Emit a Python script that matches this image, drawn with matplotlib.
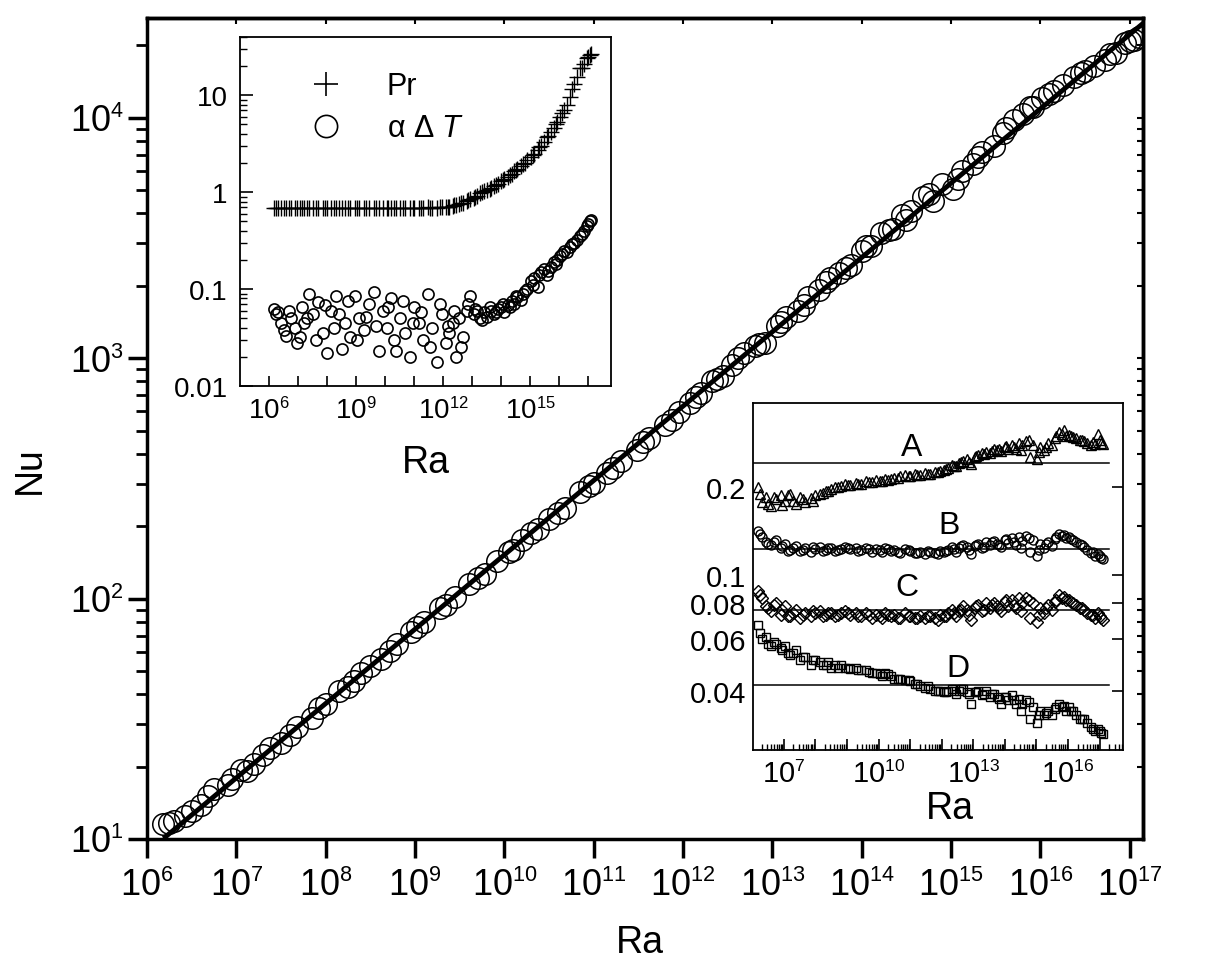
import numpy as np
import matplotlib
matplotlib.use('Agg')
import matplotlib.pyplot as plt
import matplotlib._mathtext as mathtext_mod
from matplotlib.lines import Line2D
from matplotlib.ticker import (FixedLocator, FixedFormatter, FuncFormatter,
                               LogLocator, NullFormatter, NullLocator)

plt.rcParams['font.family'] = ['Liberation Sans', 'DejaVu Sans']
plt.rcParams['mathtext.fontset'] = 'custom'
plt.rcParams['mathtext.rm'] = 'Liberation Sans'
plt.rcParams['mathtext.it'] = 'Liberation Sans:italic'
mathtext_mod.SHRINK_FACTOR = 0.6  # smaller exponents, like the original

# ---- data (run 1) ----
ra = [1.51e6, 2.0e6, 2.63e6, 3.98e6, 5.62e6, 7.94e6,
      1.12e7, 1.58e7, 2.4e7, 3.16e7, 4.79e7, 7.08e7,
      1.0e8, 1.41e8, 2.09e8, 3.16e8, 4.17e8, 6.31e8, 8.91e8,
      1.26e9, 1.91e9, 2.82e9, 3.98e9, 6.03e9, 8.32e9,
      1.12e10, 1.58e10, 2.4e10, 3.16e10, 4.79e10, 7.08e10,
      1.0e11, 1.41e11, 2.0e11, 3.02e11, 4.17e11, 6.31e11, 8.91e11,
      1.2e12, 1.58e12, 2.09e12, 2.82e12, 3.55e12, 4.79e12, 6.31e12, 8.32e12,
      1.12e13, 1.41e13, 1.91e13, 2.51e13, 3.31e13, 4.47e13, 5.62e13, 7.59e13,
      1.0e14, 1.26e14, 1.66e14, 2.24e14, 2.82e14, 3.55e14, 4.79e14, 6.31e14, 7.94e14,
      1.05e15, 1.32e15, 1.78e15, 2.24e15, 3.02e15, 3.8e15, 5.01e15, 6.31e15, 8.32e15,
      1.05e16, 1.41e16, 1.78e16, 2.4e16, 3.16e16, 3.98e16, 5.25e16, 7.08e16, 8.91e16,
      1.12e17, 1.26e17]

nu = [11.5, 11.9, 12.5, 13.9, 16.1, 16.8,
      19.3, 20.5, 24.0, 25.1, 29.3, 32.0,
      36.5, 41.2, 45.4, 52.5, 55.8, 64.5, 72.9,
      79.8, 91.4, 101.5, 114.8, 126.2, 142.9,
      155.6, 175.9, 195.1, 214.2, 237.5, 277.1,
      303.2, 331.8, 372.2, 416.1, 467.5, 527.1, 596.2,
      648.5, 718.3, 801.5, 844.0, 936.3, 1052, 1128, 1159,
      1358, 1481, 1574, 1797, 1912, 2164, 2271, 2432,
      2796, 2935, 3320, 3452, 3940, 4105, 4674, 4492, 5306,
      5078, 6015, 6393, 7197, 7651, 8672, 9801, 10371, 11129,
      12038, 12911, 13653, 14743, 15682, 16435, 17461, 18670, 20390,
      21154, 21725]

pr = [0.68, 0.69, 0.68, 0.69, 0.68, 0.69,
      0.68, 0.69, 0.68, 0.69, 0.68, 0.69,
      0.68, 0.69, 0.68, 0.69, 0.68, 0.69, 0.68,
      0.69, 0.68, 0.69, 0.68, 0.69, 0.68,
      0.69, 0.68, 0.69, 0.68, 0.69, 0.68,
      0.69, 0.68, 0.69, 0.70, 0.68, 0.69, 0.70,
      0.70, 0.71, 0.72, 0.74, 0.76, 0.78, 0.82, 0.85,
      0.88, 0.92, 0.97, 1.02, 1.05, 1.1, 1.17, 1.22,
      1.3, 1.38, 1.45, 1.55, 1.65, 1.75, 1.85, 2.0, 2.15,
      2.3, 2.5, 2.75, 3.0, 3.3, 3.7, 4.2, 4.6, 5.3,
      6.0, 7.0, 8.0, 9.5, 13, 15.5, 19, 21, 24,
      26, 27]

alpha_dt = [0.062, 0.058, 0.045, 0.033, 0.05, 0.04,
            0.032, 0.045, 0.09, 0.055, 0.073, 0.035,
            0.022, 0.06, 0.085, 0.024, 0.045, 0.032, 0.085,
            0.05, 0.038, 0.07, 0.093, 0.023, 0.06,
            0.04, 0.08, 0.023, 0.05, 0.035, 0.02,
            0.065, 0.045, 0.03, 0.09, 0.04, 0.0175, 0.055,
            0.028, 0.035, 0.045, 0.02, 0.05, 0.032, 0.06, 0.085,
            0.055, 0.06, 0.05, 0.058, 0.052, 0.06, 0.055, 0.062,
            0.065, 0.058, 0.068, 0.075, 0.07, 0.082, 0.078, 0.095, 0.1,
            0.12, 0.13, 0.105, 0.15, 0.16, 0.14, 0.17, 0.19, 0.2,
            0.22, 0.25, 0.24, 0.27, 0.3, 0.32, 0.35, 0.4, 0.45,
            0.5, 0.52]

comp_a = [0.2, 0.178, 0.185, 0.172, 0.183, 0.188,
          0.18, 0.19, 0.176, 0.186, 0.178, 0.184,
          0.188, 0.19, 0.194, 0.198, 0.2, 0.202, 0.205,
          0.204, 0.207, 0.206, 0.21, 0.208, 0.212,
          0.21, 0.214, 0.213, 0.216, 0.218, 0.22,
          0.219, 0.222, 0.221, 0.224, 0.223, 0.226, 0.227,
          0.23, 0.234, 0.238, 0.236, 0.242, 0.246, 0.25, 0.24,
          0.255, 0.258, 0.262, 0.265, 0.262, 0.27, 0.268, 0.266,
          0.275, 0.272, 0.28, 0.27, 0.285, 0.279, 0.288, 0.255, 0.28,
          0.25, 0.275, 0.268, 0.285, 0.28, 0.295, 0.31, 0.305, 0.3,
          0.302, 0.298, 0.295, 0.29, 0.288, 0.285, 0.28, 0.282, 0.305,
          0.285, 0.283]

comp_b = [0.142, 0.135, 0.13, 0.127, 0.132, 0.124,
          0.128, 0.122, 0.126, 0.121, 0.124, 0.12,
          0.123, 0.125, 0.122, 0.124, 0.121, 0.123, 0.125,
          0.123, 0.124, 0.122, 0.124, 0.12, 0.123,
          0.122, 0.124, 0.121, 0.122, 0.119, 0.123,
          0.121, 0.119, 0.12, 0.118, 0.12, 0.119, 0.121,
          0.12, 0.122, 0.125, 0.12, 0.124, 0.127, 0.125, 0.118,
          0.126, 0.128, 0.124, 0.13, 0.127, 0.131, 0.128, 0.125,
          0.132, 0.129, 0.134, 0.127, 0.135, 0.131, 0.136, 0.12, 0.132,
          0.116, 0.128, 0.124, 0.13, 0.126, 0.133, 0.138, 0.136, 0.134,
          0.135, 0.132, 0.13, 0.128, 0.125, 0.122, 0.119, 0.116, 0.118,
          0.114, 0.113]

comp_c = [0.088, 0.083, 0.078, 0.075, 0.08, 0.073,
          0.078, 0.072, 0.076, 0.071, 0.074, 0.072,
          0.074, 0.075, 0.073, 0.074, 0.072, 0.074, 0.075,
          0.073, 0.074, 0.072, 0.074, 0.071, 0.073,
          0.072, 0.074, 0.072, 0.073, 0.071, 0.074,
          0.072, 0.071, 0.072, 0.071, 0.072, 0.071, 0.073,
          0.072, 0.074, 0.076, 0.072, 0.075, 0.078, 0.076, 0.07,
          0.077, 0.079, 0.075, 0.08, 0.077, 0.08, 0.078, 0.075,
          0.081, 0.078, 0.082, 0.077, 0.083, 0.08, 0.083, 0.071, 0.08,
          0.069, 0.077, 0.074, 0.079, 0.076, 0.081, 0.085, 0.083, 0.082,
          0.082, 0.08, 0.079, 0.077, 0.076, 0.074, 0.073, 0.071, 0.074,
          0.071, 0.07]

comp_d = [0.067, 0.06, 0.061, 0.057, 0.058, 0.056,
          0.057, 0.053, 0.055, 0.051, 0.052, 0.049,
          0.051, 0.05, 0.049, 0.048, 0.049, 0.049, 0.048,
          0.0475, 0.048, 0.047, 0.047, 0.046, 0.046,
          0.0455, 0.046, 0.045, 0.044, 0.044, 0.0435,
          0.043, 0.042, 0.0415, 0.041, 0.0405, 0.04, 0.04,
          0.0395, 0.04, 0.0405, 0.039, 0.04, 0.0405, 0.0395, 0.036,
          0.0395, 0.04, 0.0385, 0.04, 0.038, 0.039, 0.038, 0.036,
          0.038, 0.037, 0.0385, 0.036, 0.0375, 0.036, 0.037, 0.032, 0.035,
          0.031, 0.034, 0.033, 0.034, 0.033, 0.0345, 0.036, 0.035, 0.034,
          0.035, 0.034, 0.033, 0.032, 0.032, 0.031, 0.030, 0.029, 0.0295,
          0.0285, 0.0283]

# ---- run 2 (points in between) ----
ra2 = [1.74e6, 3.16e6, 4.79e6, 8.91e6, 1.32e7, 2.0e7, 3.98e7, 8.32e7,
       1.78e8, 2.51e8, 5.25e8, 1.05e9, 2.24e9, 5.01e9, 1.26e10, 2.0e10,
       3.98e10, 8.91e10, 1.66e11, 3.55e11, 7.59e11, 1.41e12, 2.4e12, 4.17e12,
       7.08e12, 1.26e13, 2.24e13, 3.98e13, 6.61e13, 1.12e14, 2.0e14, 3.16e14,
       5.62e14, 1.2e15, 2.0e15, 4.17e15, 7.59e15, 1.26e16, 2.82e16, 6.03e16,
       1.0e17]

nu2 = [11.7, 13.1, 15.1, 17.7, 19.2, 22.3, 27.2, 35.0,
       42.9, 48.9, 60.4, 76.0, 93.8, 122.3, 158.5, 187.3,
       226.3, 295.1, 348.8, 448.5, 553.3, 687.4, 822.9, 999.7,
       1140, 1418, 1668, 2072, 2367, 2920, 3410, 3749,
       4841, 5571, 6838, 9056, 11056, 12553, 15375, 18373,
       20771]

pr2 = [0.69, 0.68, 0.69, 0.68, 0.69, 0.68, 0.69, 0.68,
       0.69, 0.68, 0.69, 0.68, 0.69, 0.68, 0.69, 0.68,
       0.69, 0.68, 0.69, 0.69, 0.70, 0.70, 0.73, 0.77,
       0.83, 0.9, 1.0, 1.08, 1.2, 1.33, 1.5, 1.7,
       1.95, 2.4, 2.9, 3.8, 5.0, 6.5, 11.5, 19,
       25]

alpha_dt2 = [0.055, 0.038, 0.06, 0.028, 0.065, 0.05, 0.03, 0.068,
             0.04, 0.055, 0.075, 0.03, 0.052, 0.042, 0.065, 0.03,
             0.075, 0.045, 0.058, 0.025, 0.07, 0.042, 0.06, 0.025,
             0.07, 0.062, 0.048, 0.065, 0.058, 0.07, 0.066, 0.085,
             0.09, 0.11, 0.14, 0.155, 0.18, 0.23, 0.29, 0.37,
             0.47]

comp_a2 = [0.19, 0.176, 0.186, 0.174, 0.188, 0.18, 0.183, 0.179,
           0.192, 0.195, 0.2, 0.203, 0.205, 0.208, 0.211, 0.212,
           0.215, 0.218, 0.22, 0.222, 0.225, 0.232, 0.236, 0.244,
           0.245, 0.256, 0.26, 0.266, 0.27, 0.277, 0.276, 0.268,
           0.29, 0.265, 0.275, 0.3, 0.315, 0.3, 0.292, 0.286,
           0.29]

comp_b2 = [0.138, 0.128, 0.13, 0.126, 0.121, 0.124, 0.122, 0.125,
           0.121, 0.124, 0.122, 0.124, 0.121, 0.123, 0.12, 0.123,
           0.12, 0.122, 0.119, 0.121, 0.118, 0.121, 0.123, 0.126,
           0.122, 0.127, 0.125, 0.13, 0.127, 0.133, 0.13, 0.124,
           0.134, 0.122, 0.128, 0.135, 0.137, 0.133, 0.127, 0.12,
           0.116]

comp_c2 = [0.085, 0.077, 0.079, 0.076, 0.072, 0.074, 0.073, 0.075,
           0.072, 0.074, 0.073, 0.074, 0.072, 0.073, 0.071, 0.073,
           0.071, 0.072, 0.071, 0.072, 0.07, 0.072, 0.074, 0.076,
           0.073, 0.078, 0.076, 0.079, 0.077, 0.082, 0.079, 0.075,
           0.082, 0.073, 0.077, 0.082, 0.084, 0.081, 0.077, 0.073,
           0.072]

comp_d2 = [0.063, 0.058, 0.059, 0.055, 0.054, 0.054, 0.052, 0.051,
           0.049, 0.05, 0.048, 0.048, 0.047, 0.0465, 0.045, 0.0455,
           0.044, 0.0435, 0.042, 0.0415, 0.04, 0.0395, 0.04, 0.0405,
           0.039, 0.0395, 0.039, 0.039, 0.0375, 0.038, 0.037, 0.034,
           0.0365, 0.033, 0.0335, 0.035, 0.0355, 0.034, 0.032, 0.0295,
           0.029]

# fit line Nu = 0.124 Ra^0.309, end points
ra_fit = [1.6e6, 1.4e17]
nu_fit = [10.2, 24640]

# reference levels drawn in the compensated inset
ref_ra = [1e6, 2.0e17]
ref_levels = [0.243, 0.123, 0.0759, 0.0418]

ra_all = ra + ra2


def pow10(v, pos):
    return r'$\mathregular{10^{%d}}$' % round(np.log10(v))


def pow10_every(step, start):
    def fmt(v, pos):
        e = int(round(np.log10(v)))
        if (e - start) % step == 0:
            return r'$\mathregular{10^{%d}}$' % e
        return ''
    return fmt


decades = [10.0 ** k for k in range(6, 18)]
open_mk = dict(mfc='none', mec='k', ls='none')

fig = plt.figure(figsize=(12.16, 9.79), dpi=100)

# ---- main panel ----
ax = fig.add_axes([0.121, 0.142, 0.819, 0.8386])
ax.plot(ra_all, nu + nu2, 'o', ms=15.5, mew=1.1, zorder=2, **open_mk)
ax.plot(ra_fit, nu_fit, '-', color='k', lw=3.5, zorder=3)
ax.set_xscale('log')
ax.set_yscale('log')
ax.set_xlim(1e6, 1.41e17)
ax.set_ylim(10, 2.6e4)
ax.xaxis.set_major_locator(FixedLocator(decades))
ax.xaxis.set_minor_locator(NullLocator())
ax.xaxis.set_major_formatter(FuncFormatter(pow10))
ax.yaxis.set_major_locator(FixedLocator([10, 100, 1000, 10000]))
ax.yaxis.set_minor_locator(LogLocator(base=10, subs=np.arange(2, 10), numticks=30))
ax.yaxis.set_major_formatter(FuncFormatter(pow10))
ax.yaxis.set_minor_formatter(NullFormatter())
ax.tick_params(which='major', direction='out', length=14, width=2.5, labelsize=26, pad=7)
ax.tick_params(which='minor', direction='out', length=8, width=2)
ax.tick_params(axis='y', which='major', pad=3)
for s in ax.spines.values():
    s.set_linewidth(2.5)
ax.set_xlabel('Ra', fontsize=27)
ax.set_ylabel('Nu', fontsize=27)
ax.xaxis.set_label_coords(0.495, -0.1035)
ax.yaxis.set_label_coords(-0.1, 0.45)

# mirrored small ticks on top / right
top = ax.secondary_xaxis('top')
top.xaxis.set_major_locator(FixedLocator(decades))
top.xaxis.set_minor_locator(NullLocator())
top.tick_params(direction='in', length=4, width=1.5, labeltop=False)
top.spines['top'].set_linewidth(2.5)
right = ax.secondary_yaxis('right')
right.yaxis.set_major_locator(FixedLocator([10, 100, 1000, 10000]))
right.yaxis.set_minor_locator(LogLocator(base=10, subs=np.arange(2, 10), numticks=30))
right.yaxis.set_minor_formatter(NullFormatter())
right.tick_params(which='both', direction='in', length=4, width=1.5, labelright=False)
right.spines['right'].set_linewidth(2.5)

# ---- inset 1: Pr and alpha dT ----
ax1 = fig.add_axes([0.1974, 0.6047, 0.3051, 0.3565])
ax1.plot(ra_all, pr + pr2, '+', ms=11, mew=1.0, color='k', ls='none')
ax1.plot(ra_all, alpha_dt + alpha_dt2, 'o', ms=8, mew=1.2, **open_mk)
ax1.set_xscale('log')
ax1.set_yscale('log')
ax1.set_xlim(1e5, 6e17)
ax1.set_ylim(0.01, 40)
ax1.xaxis.set_major_locator(FixedLocator([10.0 ** k for k in range(6, 18)]))
ax1.xaxis.set_minor_locator(NullLocator())
ax1.xaxis.set_major_formatter(FuncFormatter(pow10_every(3, 6)))
ax1.yaxis.set_major_locator(FixedLocator([0.01, 0.1, 1, 10]))
ax1.yaxis.set_major_formatter(FixedFormatter(['0.01', '0.1', '1', '10']))
ax1.yaxis.set_minor_locator(LogLocator(base=10, subs=np.arange(2, 10), numticks=30))
ax1.yaxis.set_minor_formatter(NullFormatter())
ax1.tick_params(axis='x', which='major', direction='in', length=7, width=1.2, labelsize=20, pad=8)
ax1.tick_params(axis='y', which='major', direction='in', length=9, width=1.2, labelsize=20, pad=9)
ax1.tick_params(axis='y', which='minor', direction='in', length=5, width=1)
for s in ax1.spines.values():
    s.set_linewidth(1.3)
ax1.set_xlabel('Ra', fontsize=27)
ax1.xaxis.set_label_coords(0.5, -0.166)

h_pr = Line2D([], [], ls='none', marker='+', ms=17, mew=1.2, color='k')
h_adt = Line2D([], [], ls='none', marker='o', ms=16, mfc='none', mec='k', mew=1.2)
ax1.legend([h_pr, h_adt], ['Pr', r'α Δ $\mathit{T}$'], loc='upper left',
           bbox_to_anchor=(0.116, 0.937), frameon=False, fontsize=22,
           handletextpad=1.0, labelspacing=0.4, borderaxespad=0)

# ---- inset 2: compensated Nusselt ----
ax2 = fig.add_axes([0.6192, 0.2329, 0.3043, 0.3544])
ax2.plot(ra_all, comp_a + comp_a2, '^', ms=7, mew=1.0, **open_mk)
ax2.plot(ra_all, comp_b + comp_b2, 'o', ms=6.5, mew=1.0, **open_mk)
ax2.plot(ra_all, comp_c + comp_c2, 'D', ms=6, mew=1.0, **open_mk)
ax2.plot(ra_all, comp_d + comp_d2, 's', ms=6, mew=1.0, **open_mk)
for lev in ref_levels:
    ax2.plot(ref_ra, [lev, lev], color='k', lw=1.1)
ax2.set_xscale('log')
ax2.set_yscale('log')
ax2.set_xlim(1.05e6, 5.5e17)
ax2.set_ylim(0.025, 0.39)
ax2.xaxis.set_major_locator(FixedLocator([10.0 ** k for k in range(7, 18)]))
ax2.xaxis.set_minor_locator(LogLocator(base=10, subs=np.arange(2, 10), numticks=30))
ax2.xaxis.set_major_formatter(FuncFormatter(pow10_every(3, 7)))
ax2.xaxis.set_minor_formatter(NullFormatter())
ax2.yaxis.set_major_locator(FixedLocator([0.04, 0.06, 0.08, 0.1, 0.2]))
ax2.yaxis.set_major_formatter(FixedFormatter(['0.04', '0.06', '0.08', '0.1', '0.2']))
ax2.yaxis.set_minor_locator(NullLocator())
ax2.tick_params(axis='x', which='major', direction='in', length=8, width=1.2, labelsize=21, pad=7)
ax2.tick_params(axis='x', which='minor', direction='in', length=4, width=1)
ax2.tick_params(axis='y', which='major', direction='in', length=8, width=1.2, labelsize=21,
                left=False, right=True, labelleft=True, pad=5)
for s in ax2.spines.values():
    s.set_linewidth(1.3)
ax2.set_xlabel('Ra', fontsize=27)
ax2.xaxis.set_label_coords(0.532, -0.115)

for name, x, y in [('A', 1.1e11, 0.276), ('B', 1.66e12, 0.149),
                   ('C', 7.9e10, 0.091), ('D', 3.2e12, 0.048)]:
    ax2.text(x, y, name, fontsize=23, ha='center', va='center')

fig.savefig('out.png', dpi=100)
